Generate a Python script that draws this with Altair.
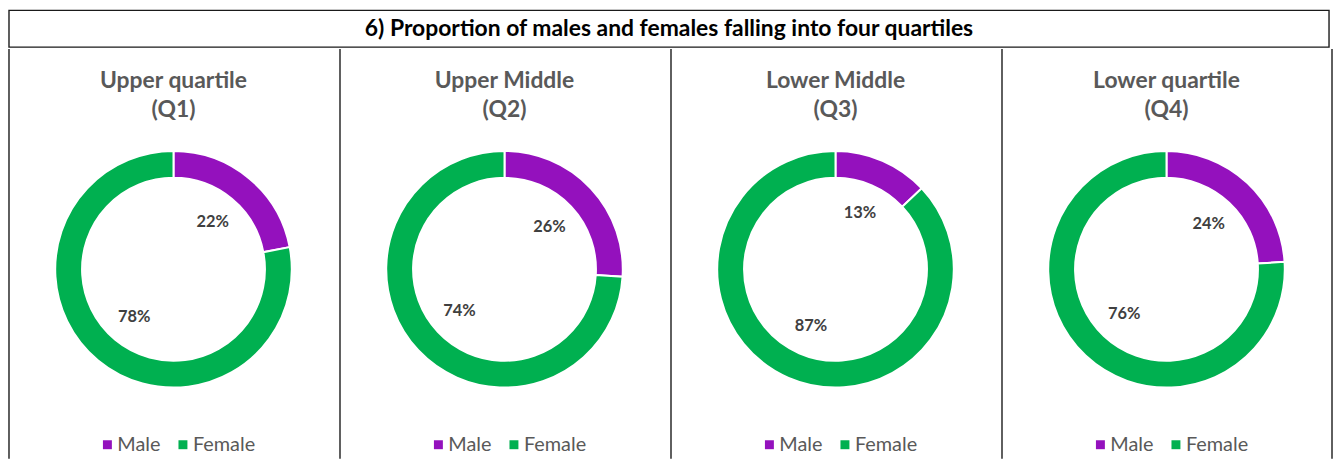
import altair as alt
import pandas as pd

main_title = "6) Proportion of males and females falling into four quartiles"
panel_titles = ["Upper quartile\n(Q1)", "Upper Middle\n(Q2)", "Lower Middle\n(Q3)", "Lower quartile\n(Q4)"]
genders = ["Male", "Female"]
male_pct = [22, 26, 13, 24]
female_pct = [78, 74, 87, 76]
colors = ["#9411BD", "#00B050"]

PW = 332
PH = 412
CX = 165.5
CY = 221.5
FONT = "Lato"
BORDER = "#1a1a1a"


def panel(i, last=False):
    df = pd.DataFrame({
        "gender": genders,
        "pct": [male_pct[i], female_pct[i]],
        "order": [0, 1],
    })
    df["label"] = df["pct"].astype(str) + "%"
    base = alt.Chart(df).encode(
        theta=alt.Theta("pct:Q", stack=True),
        order=alt.Order("order:Q"),
    )
    color = alt.Color(
        "gender:N",
        scale=alt.Scale(domain=genders, range=colors),
        sort=genders,
        legend=alt.Legend(
            title=None, orient="none", legendX=89, legendY=388,
            direction="horizontal", symbolType="square", symbolSize=81,
            symbolStrokeWidth=0, labelFontSize=20, labelFont=FONT,
            labelColor="#595959", columnPadding=12, labelOffset=0, padding=0,
            gridAlign="none",
        ),
    )
    arcs = base.mark_arc(outerRadius=119, innerRadius=92, stroke="white", strokeWidth=2).encode(
        color=color, x=alt.value(CX), y=alt.value(CY)
    )
    labels = base.mark_text(radius=62, font=FONT, fontSize=16.5, fontWeight="bold", color="#404040").encode(
        text="label:N", x=alt.value(CX), y=alt.value(CY)
    )
    ttl = alt.Chart(pd.DataFrame({"t": [panel_titles[i]]})).mark_text(
        font=FONT, fontSize=23, fontWeight="bold", color="#595959",
        lineBreak="\n", lineHeight=29, baseline="middle",
    ).encode(text="t:N", x=alt.value(CX), y=alt.value(32.5))
    left = alt.Chart(pd.DataFrame({"t": [0]})).mark_rule(color=BORDER, strokeWidth=1.4).encode(
        x=alt.value(0), y=alt.value(0), y2=alt.value(PH)
    )
    layers = [left, arcs, labels, ttl]
    if last:
        right = alt.Chart(pd.DataFrame({"t": [0]})).mark_rule(color=BORDER, strokeWidth=1.4).encode(
            x=alt.value(PW), y=alt.value(0), y2=alt.value(PH)
        )
        layers.append(right)
    return alt.layer(*layers).properties(width=PW, height=PH)


title_df = pd.DataFrame({"t": [main_title]})
title_box = alt.Chart(title_df).mark_rect(fill="white", stroke=BORDER, strokeWidth=1.4).encode(
    x=alt.value(0), x2=alt.value(PW * 4), y=alt.value(0), y2=alt.value(37)
)
title_text = alt.Chart(title_df).mark_text(
    font=FONT, fontSize=23, fontWeight="bold", color="black", baseline="middle"
).encode(text="t:N", x=alt.value(PW * 2), y=alt.value(19))
title_chart = alt.layer(title_box, title_text).properties(width=PW * 4, height=37)

row = alt.hconcat(*[panel(i, last=(i == 3)) for i in range(4)], spacing=0).resolve_scale(
    color="independent"
).resolve_legend(color="independent")

chart = alt.vconcat(title_chart, row, spacing=0).properties(
    padding=0, background="white"
).configure_view(stroke=None)

chart.save("out.html", embed_options={"renderer": "svg", "actions": False})
